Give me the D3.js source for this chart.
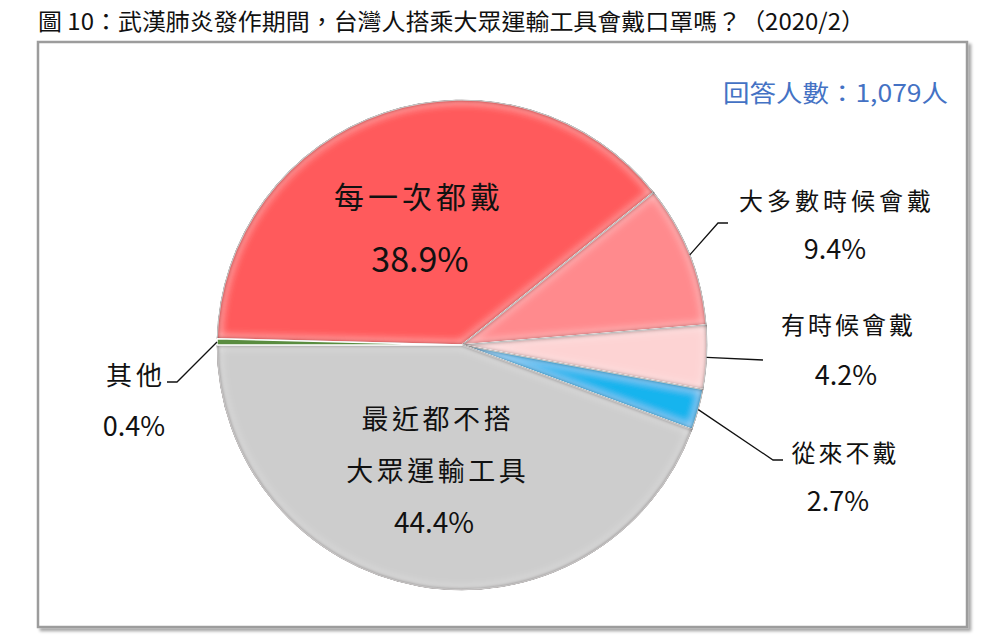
<!DOCTYPE html>
<html lang="zh-Hant">
<head>
<meta charset="utf-8">
<title>圖 10</title>
<script src="https://cdn.jsdelivr.net/npm/d3@7"></script>
<style>
    body { margin: 0; background: #fff; }
    svg text { font-family: "Noto Sans CJK TC", "Noto Sans", sans-serif; fill: #111; }
</style>
</head>
<body>
<svg id="chart" width="1003" height="643"></svg>
<script>
    // data
    const categories = ["每一次都戴", "大多數時候會戴", "有時候會戴", "從來不戴", "最近都不搭大眾運輸工具", "其他"];
    const values = [38.9, 9.4, 4.2, 2.7, 44.4, 0.4];
    const nameLines = [["每一次都戴"], ["大多數時候會戴"], ["有時候會戴"], ["從來不戴"], ["最近都不搭", "大眾運輸工具"], ["其他"]];
    const colors = ["#FF5A5C", "#FF8A8D", "#FDD3D3", "#14B4EE", "#CDCDCD", "#5A8C40"];
    const titleText = "圖 10：武漢肺炎發作期間，台灣人搭乘大眾運輸工具會戴口罩嗎？（2020/2）";
    const respondents = "回答人數：1,079人";

    // layout: label anchor points and leader elbows
    const layout = [
        { name: [417, 195], pct: [420, 257], nameSize: 30, pctSize: 34, sp: 4 },
        { name: [835, 199], pct: [835, 247], nameSize: 24, pctSize: 27, sp: 4 , elbow: [[718, 223], [728, 223]] },
        { name: [847, 323], pct: [846, 373], nameSize: 24, pctSize: 27, sp: 3, elbow: [[763, 360]] },
        { name: [844, 451], pct: [838, 499], nameSize: 24, pctSize: 27, sp: 3, elbow: [[773, 460], [783, 460]] },
        { name: [436, 417], pct: [434, 521], nameSize: 27, pctSize: 28, sp: 3.5, lineGap: 52 },
        { name: [134, 373], pct: [134, 424], nameSize: 26, pctSize: 27, sp: 4, elbow: [[177, 382], [167, 382]] }
    ];

    const svg = d3.select("#chart");
    const cx = 462, cy = 345, r = 245;

    const defs = svg.append("defs");

    const shadow = defs.append("filter").attr("id", "frameShadow")
        .attr("x", "-5%").attr("y", "-5%").attr("width", "110%").attr("height", "110%");
    shadow.append("feDropShadow").attr("dx", 3).attr("dy", 3).attr("stdDeviation", 1.5)
        .attr("flood-color", "#000").attr("flood-opacity", 0.35);

    // bevel: dark rim + light band inside each slice
    const bevel = defs.append("filter").attr("id", "bevel")
        .attr("x", "-10%").attr("y", "-10%").attr("width", "120%").attr("height", "120%");
    bevel.append("feGaussianBlur").attr("in", "SourceAlpha").attr("stdDeviation", 2.5).attr("result", "b1");
    bevel.append("feGaussianBlur").attr("in", "SourceAlpha").attr("stdDeviation", 6).attr("result", "b2");
    bevel.append("feComposite").attr("in", "SourceAlpha").attr("in2", "b1")
        .attr("operator", "arithmetic").attr("k2", 1.6).attr("k3", -1.6).attr("result", "rim");
    bevel.append("feComposite").attr("in", "b1").attr("in2", "b2")
        .attr("operator", "arithmetic").attr("k2", 1.5).attr("k3", -1.5).attr("result", "band");
    bevel.append("feFlood").attr("flood-color", "#3a1a1a").attr("flood-opacity", 0.8);
    bevel.append("feComposite").attr("in2", "rim").attr("operator", "in").attr("result", "dark");
    bevel.append("feFlood").attr("flood-color", "#fff").attr("flood-opacity", 0.5);
    bevel.append("feComposite").attr("in2", "band").attr("operator", "in").attr("result", "light");
    const merge = bevel.append("feMerge");
    merge.append("feMergeNode").attr("in", "SourceGraphic");
    merge.append("feMergeNode").attr("in", "light");
    merge.append("feMergeNode").attr("in", "dark");

    // frame
    svg.append("rect")
        .attr("x", 38).attr("y", 42).attr("width", 929).attr("height", 585)
        .attr("fill", "#fff").attr("stroke", "#9c9c9c").attr("stroke-width", 2.5)
        .attr("filter", "url(#frameShadow)");

    // title
    svg.append("text")
        .attr("x", 38).attr("y", 30)
        .attr("textLength", 827).attr("lengthAdjust", "spacingAndGlyphs")
        .style("font-size", "23px")
        .text(titleText);

    svg.append("text")
        .attr("x", 723).attr("y", 102)
        .attr("textLength", 225).attr("lengthAdjust", "spacingAndGlyphs")
        .style("font-size", "24px")
        .style("fill", "#4472C4")
        .text(respondents);

    const total = d3.sum(values);
    const gap = values[values.length - 1] / total * 2 * Math.PI;
    const pie = d3.pie().sort(null)
        .startAngle(-Math.PI / 2 + gap)
        .endAngle(-Math.PI / 2 + gap + 2 * Math.PI);
    const arcs = pie(values);
    const arc = d3.arc().innerRadius(0).outerRadius(r);

    const g = svg.append("g").attr("transform", `translate(${cx},${cy})`);

    g.selectAll("path.slice")
        .data(arcs)
        .enter()
        .append("path")
        .attr("class", "slice")
        .attr("d", arc)
        .attr("fill", (d, i) => colors[i])
        .attr("stroke", "#fff")
        .attr("stroke-width", 1.5)
        .attr("stroke-linejoin", "round")
        .attr("filter", (d, i) => values[i] < 1 ? null : "url(#bevel)");

    // leader lines
    arcs.forEach(function(d, i) {
        const L = layout[i];
        if (!L.elbow) return;
        const mid = (d.startAngle + d.endAngle) / 2;
        const p0 = [cx + Math.sin(mid) * r, cy - Math.cos(mid) * r];
        svg.append("polyline")
            .attr("points", [p0].concat(L.elbow).map(p => p.join(",")).join(" "))
            .attr("fill", "none")
            .attr("stroke", "#111")
            .attr("stroke-width", 1.3);
    });

    // labels
    const fmt = d3.format(".1f");
    arcs.forEach(function(d, i) {
        const L = layout[i];
        nameLines[i].forEach(function(line, j) {
            svg.append("text")
                .attr("x", L.name[0] + L.sp / 2)
                .attr("y", L.name[1] + j * (L.lineGap || 0))
                .attr("text-anchor", "middle")
                .attr("dominant-baseline", "central")
                .style("font-size", L.nameSize + "px")
                .style("letter-spacing", L.sp + "px")
                .text(line);
        });
        svg.append("text")
            .attr("x", L.pct[0])
            .attr("y", L.pct[1])
            .attr("text-anchor", "middle")
            .attr("dominant-baseline", "central")
            .style("font-size", L.pctSize + "px")
            .text(fmt(d.data) + "%");
    });
</script>
</body>
</html>
